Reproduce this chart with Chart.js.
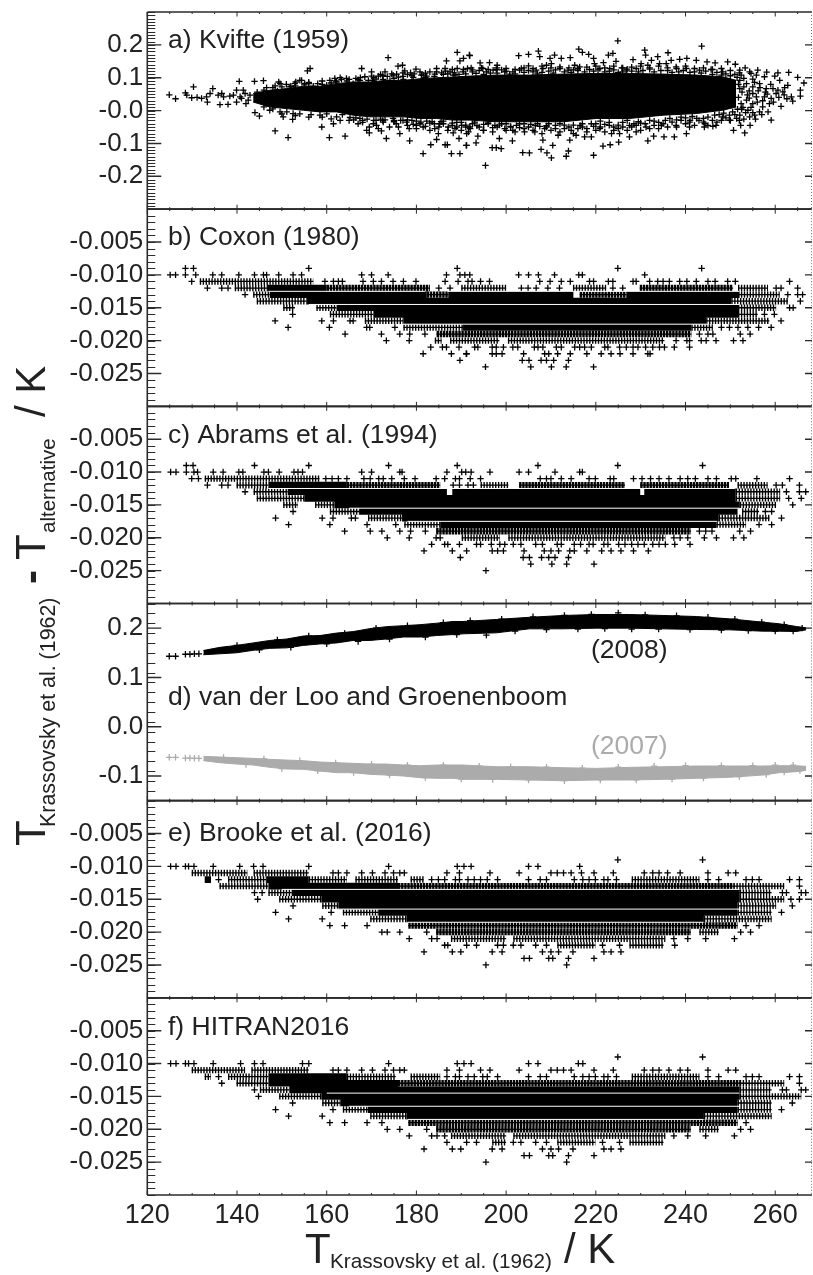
<!DOCTYPE html>
<html>
<head>
<meta charset="utf-8">
<title>Line position differences</title>
<script src="https://cdn.jsdelivr.net/npm/chart.js@4/dist/chart.umd.min.js"></script>
<style>
body { margin: 0; background: #fff; }
canvas { display: block; }
</style>
</head>
<body>
<canvas id="panels" width="813" height="1275"></canvas>
<script>
// tick values and labels
var xTicks = [120, 140, 160, 180, 200, 220, 240, 260];
var aTicks = [0.2, 0.1, 0, -0.1, -0.2];
var aLabels = ["0.2", "0.1", "-0.0", "-0.1", "-0.2"];
var rowTicks = [-0.005, -0.01, -0.015, -0.02, -0.025];
var rowLabels = ["-0.005", "-0.010", "-0.015", "-0.020", "-0.025"];
var dTicks = [0.2, 0.1, 0, -0.1];
var dLabels = ["0.2", "0.1", "0.0", "-0.1"];

// a) Kvifte: solid part of the cloud, then the single marks round it
var aCoreT = [143.6,147.3,151.1,154.8,158.5,162.2,165.9,169.6,173.3,177.1,180.8,184.5,188.2,191.9,197.8,205.2,212.7,220.1,227.5,235,242.4,248.3,251.3];
var aCoreHigh = [.052,.062,.067,.074,.074,.082,.087,.087,.092,.092,.097,.100,.102,.105,.108,.108,.111,.113,.113,.111,.108,.103,.092];
var aCoreLow = [.026,.011,.006,.001,-.004,-.004,-.014,-.019,-.019,-.019,-.024,-.024,-.029,-.029,-.034,-.034,-.034,-.024,-.024,-.014,-.009,.001,.011];
var aMarks = [
  [124.9,.048],[126.3,.036],[128.5,.054],[128.8,.047],[129.9,.039],[130.3,.072],[131.1,.040],[132.1,.037],[133.2,.042],[133.4,.026],
  [134.6,.067],[134,.052],[135.8,.047],[136.2,.018],[136.6,.052],[138,.019],[138.4,.044],[139.9,.062],[139.9,.026],[140.5,.089],
  [141.4,.062],[142,.021],[143.9,.089],[145.9,.091],[144,-.006],[145,-.017],[146,.011],[146.6,.070],[149.3,.087],[148.5,-.062],
  [150.3,-.019],[151.4,-.082],[152.4,-.027],[151.1,-.004],[153.1,.087],[154.4,.092],[155.7,.121],[156.3,.128],[158.9,-.050],[161.5,-.040],
  [160.6,-.082],[164.1,-.078],[161.8,.098],[164.4,.098],[167.8,.128],[168.9,-.060],[169.5,-.068],[170,.118],[170.2,.092],[171.1,-.045],
  [172.2,-.062],[173.3,-.085],[173.7,.161],[173,.118],[174.8,.108],[175.9,.135],[176.9,.138],[177.4,.121],[178.7,.115],[176.3,-.070],
  [178.5,-.092],[178.4,-.055],[179.9,.126],[181.1,.108],[180,-.045],[181.5,-.131],[183.2,-.104],[184.5,-.088],[184.9,-.070],[186.4,-.104],
  [186.9,-.104],[187.8,-.131],[189.7,-.131],[191.2,-.106],[189.5,-.085],[188.2,-.068],[191.2,-.070],[184.5,.128],[186.7,.151],[189.1,.177],
  [189.7,.151],[190.5,.159],[191.8,.169],[186.4,.128],[189.1,.128],[191.4,.128],[188.2,.108],
  [191.9,.167],[194.2,.145],[196.3,.146],[198,.138],[192.2,.130],[194.8,.128],[197.1,.123],[199.7,.118],[202.8,.167],[205,.171],
  [207.2,.181],[207.5,.164],[203.4,.128],[205,.136],[206.7,.123],[209,.138],[209.8,.159],[210.8,.169],[212.3,.159],[214.3,.161],
  [216.2,.187],[217,.177],[215.3,.138],[218.4,.171],[219.5,.159],[219.7,.143],[221.7,.146],[222.8,.169],[223.8,.174],[224.5,.150],
  [224.9,.212],[225.8,.130],[228.3,.155],[230.9,.184],[231.1,.169],[230.1,.143],[232.4,.153],[233.8,.164],[236.1,.176],[236.8,.153],
  [238.7,.156],[240.3,.159],[242.4,.153],[243.6,.196],[244.8,.148],[246.6,.145],[249.4,.148],[251.1,.141],[253.3,.130],[254.6,.113],
  [256.1,.123],[258.1,.117],[260.6,.115],[263,.116],[265,.101],[266.4,.084],[265.6,.062],[265.6,.044],[263.9,.029],[262.1,.070],
  [261.3,.013],[259.1,-.029],[253.2,-.068],[250.7,-.060],[252.3,-.045],[254.4,-.045],[246.8,-.045],[244.2,-.050],[240.9,-.050],[240.2,-.070],
  [237.5,-.080],[235.2,-.080],[232.9,-.078],[231.6,-.092],[227.5,-.080],[225.1,-.096],[223.2,-.104],[221.6,-.108],[219.5,-.136],[213.9,-.123],
  [213.4,-.139],[210.1,-.144],[209.1,-.129],[207.8,-.118],[210.4,-.106],[205.2,-.129],[203.7,-.128],[201.4,-.092],[198.9,-.116],[197.8,-.113],
  [196.9,-.113],[195.4,-.167],[193.3,-.098],[191.1,-.106],[193.7,-.078],[198.5,-.085],[208.2,-.090],[214.2,-.090],[219,-.080],[225.3,-.070],
  [149.6,.082],[151.8,.072],[152.9,.082],[154,.092],[155.1,.082],[157,.074],[160,.077],[160.7,.092],[162.2,.087],[163.3,.095],
  [165.9,.082],[167.4,.092],[169.3,.092],[171.5,.105],[172.6,.095],[174.1,.092],[175.6,.111],[177.1,.095],[179.3,.101],[180.8,.118],
  [182.3,.105],[184.1,.111],[185.6,.115],[187.5,.118],[188.6,.108],[190.4,.118],
  [147.3,.001],[149.6,-.004],[152.5,-.009],[158.5,-.014],[162.2,-.019],[165.2,-.021],[167.4,-.024],[170.4,-.040],[172.6,-.035],[174.8,-.024],
  [177.8,-.035],[179.3,-.042],[180.8,-.040],[182.3,-.032],[184.1,-.055],[185.2,-.040],[187.1,-.050],[188.6,-.055],[190.1,-.045],[191.6,-.065],
  [193.3,.113],[195.6,.118],[197.8,.125],[200.8,.111],[203,.123],[206,.118],[208.2,.128],[210.1,.143],[212,.133],[213.8,.123],
  [216.4,.133],[218.6,.125],[220.9,.128],[223.1,.128],[226.8,.123],[229,.128],[231.6,.138],[234.2,.143],[235.7,.143],[237.9,.133],
  [240.2,.128],[243.1,.123],[245.7,.125],[248.3,.118],[252.1,.123],[252.4,.108],[254.3,.118],[255.8,.108],[257.6,.103],[259.9,.105],
  [261,.092],[262.8,.077],[263.6,.042],
  [252.1,.092],[253.6,.082],[252.1,.067],[255,.072],[256.5,.082],[258,.067],[259.5,.067],[260.6,.062],[261.7,.057],[257.6,.042],
  [259.1,.037],[255.8,.042],[253.6,.032],[252.4,.021],[255,.021],[257.2,.011],[258.7,.021],[253.9,.001],[256.5,-.004],[252.1,-.014],
  [254.3,-.019],[255.4,-.014],[258.4,-.004],[249.8,-.014],[248.3,-.019],[249.8,-.029],
  [191.9,-.050],[194.9,-.060],[197.5,-.045],[199.7,-.055],[202.3,-.045],[204.1,-.065],[206.4,-.065],[208.6,-.055],[211.6,-.075],[215.6,-.075],
  [217.5,-.080],[220.9,-.055],[223.5,-.070],[227.5,-.045],[229,-.065],[231.2,-.050],[234.6,-.045],[237.9,-.045],[240.9,-.035],[244.3,-.040],[246.1,-.048],
  [137,.042],[139.2,.047],[140.7,.042],[141.8,.052],[142.9,.047],[142.5,.032],[141,.037],
  // second pass along the edges of the solid part
  [156,.086],[159,.090],[163,.100],[166.5,.098],[168.5,.103],[171,.096],[173.5,.104],[176,.102],[178,.110],[181.5,.108],
  [183,.118],[186,.110],[188,.125],[191,.112],[194,.122],[196.5,.114],[199,.124],[201.5,.118],[204,.116],[207,.112],
  [209.5,.120],[211,.124],[214.5,.116],[216,.122],[219.5,.120],[222,.118],[224,.124],[226,.118],[228,.120],[230.5,.122],
  [233,.118],[236,.122],[238.5,.118],[241,.116],[243.5,.114],[246,.110],[248,.108],[250,.106],[251.5,.101],
  [165,-.030],[168,-.036],[171,-.030],[173,-.028],[175.5,-.040],[178,-.028],[181.5,-.050],[183,-.038],[186,-.032],[188,-.038],
  [190,-.036],[192.5,-.040],[195,-.042],[197,-.052],[200,-.040],[201.5,-.060],[203,-.052],[205.5,-.042],[207.5,-.048],[209.5,-.040],
  [211,-.055],[213,-.044],[214.5,-.060],[216.5,-.045],[218,-.055],[220,-.040],[222,-.042],[224,-.050],[226,-.036],[228.5,-.040],
  [230,-.038],[233,-.032],[235.5,-.030],[238,-.028],[240,-.022],[242.5,-.024],[245,-.020],[247.5,-.012],
  // third pass, the fuzzy zone further out
  [158,.082],[161,.084],[164.5,.090],[167,.094],[170.5,.100],[172.5,.106],[175,.098],[177,.104],[179,.106],[182,.100],
  [184,.104],[187,.112],[189.5,.110],[192.5,.118],[195,.110],[198,.114],[200,.120],[202,.112],[205,.122],[208,.116],
  [210.5,.114],[213,.118],[215,.124],[217.5,.118],[220.5,.124],[223,.120],[225,.116],[227,.126],[229.5,.118],[232,.126],
  [234.5,.122],[237,.116],[239.5,.122],[242,.118],[244.5,.120],[247,.116],[249,.112],[251,.110],[253,.098],[255,.096],
  [152,.074],[155,.078],[150,.072],[148,.070],[146,.062],[144.5,.056],[146.5,.052],[149,.060],
  [154,-.010],[156.5,-.012],[160,-.010],[163.5,-.012],[166.5,-.022],[169,-.026],[172,-.026],[175,-.030],[177,-.030],[180,-.032],
  [183.5,-.034],[185.5,-.034],[189,-.036],[191,-.044],[193.5,-.046],[196,-.040],[198.5,-.044],[201,-.048],[204,-.040],[206.5,-.046],
  [209,-.046],[212,-.040],[215,-.044],[217,-.040],[219.5,-.048],[221,-.032],[223,-.036],[225,-.044],[227,-.030],[229.5,-.034],
  [232,-.030],[234,-.036],[236.5,-.024],[239,-.020],[241.5,-.018],[244,-.024],[246.5,-.014],[248.5,-.008],[250.5,-.004],[252.5,.004],
  [251.8,.080],[253,.072],[254.2,.060],[255.4,.086],[256.6,.070],[257.8,.056],[259,.080],[260.2,.052],[252.6,.056],[253.8,.048],
  [255,.052],[256.2,.060],[254.2,.038],[251.8,.040],[252.8,.010],[254.6,.010],[256,.026],[257.2,.030],[258.2,.050],[259.6,.026],
  [260.8,.040],[262,.048],[262.6,.036],[251.6,.004],[253.4,-.006],[255,-.006],[251.4,-.024],[253,-.026],[255.6,-.026],[257,-.012],
  // fourth pass, lower haze then upper haze
  [166,-.028],[167,-.04],[168,-.03],[169.5,-.05],[170.5,-.03],[171.5,-.055],[172.5,-.03],[174,-.05],[175,-.034],[176,-.05],
  [176.5,-.03],[178,-.045],[179,-.03],[180,-.055],[181,-.035],[182,-.048],[183,-.06],[184,-.04],[185,-.05],[186,-.04],
  [187,-.06],[188,-.045],[189,-.05],[190,-.06],[191,-.05],[192,-.055],[193,-.035],[194,-.05],[195,-.06],[196,-.035],
  [197,-.065],[198,-.05],[199,-.04],[200,-.06],[201,-.05],[202,-.065],[203,-.04],[204,-.055],[205,-.05],[206,-.06],
  [207,-.04],[208,-.07],[209,-.05],[210,-.06],[211,-.045],[212,-.065],[213,-.055],[214,-.05],[215,-.07],[216,-.055],
  [217,-.05],[218,-.065],[219,-.04],[220,-.06],[221,-.05],[222,-.065],[223,-.045],[224,-.06],[225,-.055],[226,-.05],
  [227,-.06],[228,-.05],[229,-.045],[230,-.06],[231,-.04],[232,-.055],[233,-.045],[234,-.055],[235,-.04],[236,-.05],
  [237,-.035],[238,-.05],[239,-.03],[240,-.04],[241,-.03],[242,-.045],[243,-.03],[244,-.035],[245,-.045],[246,-.03],
  [247,-.035],[248,-.03],[249,-.022],[250,-.03],[251,-.012],[252,-.03],
  [165,.095],[167.5,.10],[170,.105],[172,.11],[174.5,.112],[177,.115],[179.5,.112],[182,.114],[184.5,.118],[186.5,.12],
  [188.5,.115],[190.5,.125],[192.5,.124],[194.5,.13],[196,.125],[198,.13],[200,.128],[202,.125],[204,.13],[206,.128],
  [208,.135],[210,.13],[212,.128],[214,.13],[216,.128],[218,.132],[220,.135],[222,.13],[224,.135],[226,.13],
  [228,.132],[230,.135],[232,.13],[234,.135],[236,.13],[238,.128],[240,.135],[242,.128],[244,.13],[246,.125],
  [248,.128],[250,.122],[252,.115],
  [148.5,.075],[151,.08],[153,.075],[156,.082],[159,.08],[162,.09],[150,-.01],[153,-.015],[156,-.02],[159,-.02],
  [161,-.025],[163,-.03],[148,.005]
];

// b, c, e, f: the differences fall on rows. core/comb are [row, T from, T to], a 1 at the end of a comb means close teeth,
// gaps are the white seams between rows, marks are [row, [T...]]
var bCore = [[-.012,146.9,160],[-.013,147.3,182.3],[-.013,187.1,215],[-.013,226.8,252],[-.014,155.5,250.2],[-.015,162.2,251.7],[-.016,170.4,251.7],[-.017,177.1,244.6],[-.018,190.4,241.3]];
var bComb = [[-.011,131.7,157],[-.012,139.5,146.9],[-.012,160,183,1],[-.012,190,200],[-.012,214.9,222.3],[-.012,229.8,250.6,1],[-.012,251.7,258.4],[-.013,143.6,147.3],[-.013,182.3,187.1,1],[-.013,216.4,226.8,1],[-.013,251.7,261],[-.014,144.4,155.5],[-.014,250.2,262.8],[-.015,150.3,152.9],[-.015,157.7,162.2],[-.015,251.7,260.2],[-.016,160.7,170.4],[-.016,251.7,256.1],[-.017,168.5,177.1],[-.017,244.6,258.7],[-.018,177.1,190.4],[-.018,241.3,246.1],[-.019,184.5,241.3,1],[-.02,184.1,185.6],[-.02,187.5,198.5],[-.02,200.4,235.3]];
var bGaps = [[-.0125,147,182],[-.0125,187,252],[-.0145,156,252],[-.0175,177,245]];
var bMarks = [
  [-.009,[128.5,130.3,156,189.1,224.9,243.6]],
  [-.01,[125.1,126.3,128.5,130.8,134.6,136.6,140.4,143.9,145.9,146.6,149.3,152.5,154.4,167.8,170,173.7,186.7,189.7,190.8,191.9,202.8,205,207.2,210.8,216.2,217,230.9]],
  [-.011,[129.9,159.6,161.5,162.6,163.5,168.1,170.4,172.2,174.8,177.1,179.9,186.4,189.3,191.5,192.4,194.3,196.3,207.5,209.8,212.3,214.3,218.6,219.5,222.8,223.8,228.3,229,232,233.8,235,236.4,238.7,240.3,242.4,245,246.6,249.4,251.1,263.2]],
  [-.012,[133.4,136.6,138,185,187.5,203.4,204.9,206.7,209.3,211.9,223.8,226,260.2,261.3,265]],
  [-.013,[141.8,262.8,265,266.1]],
  [-.014,[265.6]],
  [-.015,[263.2,264]],
  [-.016,[152.4,257.6,259.8]],
  [-.017,[148.5,158.9,161.5,165.2,165.9,261.3]],
  [-.018,[151.4,160.6,168.9,169.6,175.2,248,249.8,251.7,253.9,256.3,259.1]],
  [-.019,[164.1,172.2,176.3,178.5,181.9,243.1,245,246.1,252.2,254.4]],
  [-.02,[173.3,178.4,237.9,240.3,240.9,243.5,244.6,246.8,250.7,252.8]],
  [-.021,[183.2,185.8,186.7,189.5,193,193.7,196.9,197.8,199.4,201.5,202.6,206.3,207.1,208.2,211.2,212.3,215.3,216.4,217.5,219,222,222.7,225.3,226.8,228.3,229.4,231.1,232.7,234.2,235.3,237.5,240.9]],
  [-.022,[181.5,187.8,191.2,191.1,196.9,197.8,199.1,203.9,208.6,209.5,211.5,214.3,218,221.2,223.4,225.4,228.3,231.6,232.1]],
  [-.023,[189.7,203.6,205.1,207.8,209,210.6,213.9]],
  [-.024,[195.4,205.5,210.1,213.4,219.5]]
];

var cCore = [[-.012,147,164.5],[-.013,151.3,186.8],[-.013,188,229.9],[-.013,230.8,251.2],[-.014,155,251.2],[-.015,161.7,252.1],[-.016,167.4,251.6],[-.017,176.8,247.4],[-.018,185.3,246.9]];
var cComb = [[-.011,132.8,158.4],[-.012,139.9,147],[-.012,164.5,185.3,1],[-.012,194.3,200.5],[-.012,202.9,226.5,1],[-.012,229.9,249.7,1],[-.012,251.6,258.3],[-.013,143.7,151.3],[-.013,251.2,261.1],[-.014,144.4,155],[-.014,251.2,261.1],[-.015,150.3,153.6],[-.015,157.4,161.7],[-.015,252.1,260.2],[-.016,160.7,167.4],[-.016,252.6,256.4],[-.017,169.2,176.8],[-.017,247.4,258.7],[-.018,177.3,185.3],[-.018,246.9,253.5],[-.019,184.4,241.2,1],[-.02,190.1,198.6],[-.02,200.5,235.5]];
var cGaps = [[-.0125,147,251],[-.0155,165,252],[-.0175,178,247]];
var cMarks = [
  [-.009,[128.7,130.2,143.9,156,173.8,189.1,207.1,224.9,243.8]],
  [-.01,[125.2,126.4,128.7,130.4,131.2,134.7,136.9,140.4,141.3,146,147,149.4,152.7,153.6,154.6,167.8,170,176.3,176.8,186.8,190.1,191,192.2,196.4,202.9,205,210.9,216.4,217]],
  [-.011,[129.9,131.4,159.8,161.2,162.6,164.5,168.3,169.7,171.6,172.6,174.5,177.3,179.7,184.4,186.3,188.7,189.6,192,194.3,207.6,209,210,212.3,214.5,218.5,219.9,223.2,224,228.4,230.3,232.2,234.1,236.3,238.8,240.5,242.2,245,246.9,250.2,251.2,255.9,263.2]],
  [-.012,[133.4,136.6,138,188.2,189.6,191.5,192.7,260.2,261.6,265.4]],
  [-.013,[141.8,262.5,265.4,266.8]],
  [-.014,[263,265.8]],
  [-.015,[263.9]],
  [-.016,[152.5,257.8,259.2]],
  [-.017,[148.6,159,161.4,165.5,166.4,261.4]],
  [-.018,[151.5,160.7,169,175.4,256.4,259.2]],
  [-.019,[164,169.7,172.3,176.3,178.7,182,243.1,244.5,245.9,252.1,254.5]],
  [-.02,[173.5,178.4,184.4,185.3,237.4,238.8,240.5,244.2,246.9,250.7,253]],
  [-.021,[183.4,186.3,187,189.6,193.4,194.3,196.7,198.6,199.7,201.6,203.3,206.6,208.1,211.4,212.3,215.2,216.6,218.5,219.4,221.8,222.7,225.1,226.5,228,229.4,230.8,232.7,234.1,235.5,237.6,241]],
  [-.022,[181.7,188,191.2,196.9,198.1,199.4,204,208.5,210,211.7,214.2,215.2,218,221.3,223.4,225.6,228.4,231.7]],
  [-.023,[189.8,203.8,205.2,207.9,209.5,210.9,213.9]],
  [-.024,[205.5,210.2,213.5,219.6]],
  [-.025,[195.5]]
];

var eCore = [[-.012,132.8,134.2],[-.012,146.5,156],[-.013,147,175.9],[-.014,152.2,252.1],[-.015,158.8,252.1],[-.016,162.6,251.6],[-.017,171.6,251.6],[-.018,177.8,244.1]];
var eComb = [[-.011,129.9,142.3],[-.011,143.7,156],[-.012,138,146.5],[-.012,156,164.5],[-.012,166.4,175.9],[-.012,178.7,181.6],[-.012,228,243.1],[-.013,136.1,147],[-.013,175.9,250.7,1],[-.013,250.7,262],[-.014,147,152.2],[-.014,252.1,259.2],[-.015,149.4,158.8],[-.015,252.1,262],[-.016,159,162.6],[-.016,251.6,260.2],[-.017,163.6,171.6],[-.017,251.6,259.2],[-.018,169.7,177.8],[-.018,244.1,259.2],[-.019,178.2,251.6,1],[-.02,184.4,241.2,1],[-.02,243.1,247.4],[-.021,187.7,200],[-.021,201.6,235.5],[-.022,211.4,219.9],[-.022,227.5,235.1]];
var eGaps = [[-.0135,150,252],[-.0165,162,252],[-.0185,178,244]];
var eMarks = [
  [-.009,[224.9,243.8]],
  [-.01,[125.2,126.4,128.5,129.2,130.4,134.7,140.6,143.7,145.8,156,173.8,189.1,190.6,192.2,205,207.1,216.4]],
  [-.011,[161.4,162.6,164.5,167.8,170.2,173,174.9,176.3,177.3,186.8,189.6,196.4,202.9,210,211.4,212.8,214.5,216.8,219.6,223.9,230.8,232.7,234.1,236,238.8,245,249.5,251.2]],
  [-.012,[135.9,183.4,184.9,186.3,188.7,189.6,191.5,192.9,194.3,195.8,198.1,205,207.6,209,215.2,217.1,218.5,219.9,221.8,222.7,224.6,245,247.4,253.5,254.9,256.4,263.2,265.4]],
  [-.013,[265.4]],
  [-.014,[143.9,145.6,261.6,262.5,265.8,266.8]],
  [-.015,[144.6,263.5,265.4]],
  [-.016,[152.5,263.8]],
  [-.017,[148.6,161,261.4]],
  [-.018,[151.5,159]],
  [-.019,[160.7,164,169,253.5,256.4]],
  [-.02,[172.3,173.5,176.3,182.3,252.3,254.5]],
  [-.021,[178.4,183.4,184.6,237.4,240.5,244.5,250.9]],
  [-.022,[186.3,187,191.2,193.4,198.1,199.4,201.6,203.3,206.6,209,221.5,225.3,237.6]],
  [-.023,[181.7,188,189.9,196.9,199.1,208.1,210,211.7,214.9,221.8,223.4,225.6]],
  [-.024,[204,205.2,209.5,210.4,213.9,219.6]],
  [-.025,[195.5,213.5]]
];

var fCore = [[-.012,147,164.5],[-.013,147,175.9],[-.014,151.7,252.1],[-.015,158.8,252.1],[-.016,163.1,251.6],[-.017,169.2,251.6],[-.018,177.8,244.1]];
var fComb = [[-.011,129.9,141.8],[-.011,143.2,156],[-.012,132.8,134.2],[-.012,138,147],[-.012,164.5,175.4],[-.012,178.7,185.3],[-.012,228,243.1],[-.013,139.9,147],[-.013,175.9,252.1,1],[-.013,252.1,262],[-.014,145.1,151.7],[-.014,252.1,259.2],[-.015,149.4,158.8],[-.015,252.1,265.8],[-.016,159,163.1],[-.016,251.6,259.2],[-.017,163.6,169.2],[-.017,251.6,259.2],[-.018,169.7,177.8],[-.018,244.1,259.2],[-.019,178.2,251.6,1],[-.02,184.4,241.2,1],[-.02,243.1,247.4],[-.021,187.7,200],[-.021,201.6,235.5],[-.022,196.9,200],[-.022,211.4,219.9],[-.022,227.5,235.1]];
var fGaps = [[-.0145,160,252],[-.0165,165,252],[-.0185,178,244]];
var fMarks = [
  [-.009,[224.9,243.8]],
  [-.01,[125.2,126.4,128.5,129.2,130.4,134.7,140.8,143.9,145.8,154.6,156,173.8,189.1,190.6,192.2,205,207.1,216.1,217.1]],
  [-.011,[161.4,162.6,164.5,167.8,170.2,173,174.9,176.3,177.3,186.8,189.6,194.3,196.4,202.9,210,211.4,212.8,214.5,219.6,223.9,230.8,232.7,234.1,236.3,238.8,240.5,245,249.5,251.2]],
  [-.012,[135.9,186.8,188.7,189.6,191.5,192.9,194.8,195.8,198.1,205,207.6,209,215.2,217.1,218.5,219.9,221.8,222.7,224.6,245,247.4,253.5,254.9,256.4,263.2,265.4]],
  [-.013,[136.6,265.4]],
  [-.014,[143.9,261.6,262.5,265.8,266.8]],
  [-.015,[144.8]],
  [-.016,[152.4,263.8]],
  [-.017,[148.6,161.4,261.4]],
  [-.018,[151.5,159]],
  [-.019,[160.7,164,169,172.3,253.5]],
  [-.02,[173.5,176.3,182.3,252.3,254.5]],
  [-.021,[178.4,183.4,184.6,186.3,237.4,240.5,244.5,250.9]],
  [-.022,[186.8,191.2,193.4,201.6,203.3,206.6,209,221.5,225.3]],
  [-.023,[181.7,188,189.9,196.9,199.1,208.1,210,211.7,214.9,221.8,223.4,225.6]],
  [-.024,[204,205.2,209.5,210.4,213.9,219.6]],
  [-.025,[195.5,213.5]]
];

// d) two narrow bands, with the marks that stick out of their edges
var dLeftT = [124.9,126.3,128.5,129.5,130.5,131.5];
var dBlackLeft = [.143,.143,.147,.147,.148,.148];
var dGreyLeft = [-.062,-.062,-.0635,-.0635,-.064,-.064];
var dBandT = [132.5,136.2,139.9,143.6,147.3,151.1,154.8,158.5,162.2,165.9,169.6,173.3,177.1,180.8,184.5,188.2,190.4,197.8,205.2,212.7,220.1,227.5,235,242.4,249.8,257.2,260.9,264.7,266.9];
var dBlackHigh = [.1547,.161,.165,.170,.175,.178,.184,.185,.190,.193,.199,.203,.205,.207,.210,.2135,.2135,.2176,.222,.2257,.2277,.2277,.2257,.2236,.2189,.2122,.2088,.2034,.2007];
var dBlackLow = [.146,.148,.150,.155,.159,.160,.165,.168,.170,.175,.175,.178,.182,.182,.185,.187,.1885,.1905,.1986,.1986,.2,.2,.1986,.1973,.1966,.1939,.1939,.1932,.1966];
var dGreyHigh = [-.0601,-.0615,-.0628,-.0642,-.0662,-.0676,-.0689,-.0716,-.073,-.0743,-.0757,-.0757,-.0777,-.0791,-.0777,-.0777,-.0777,-.0811,-.0811,-.0831,-.0845,-.0824,-.0811,-.0797,-.0797,-.0797,-.0791,-.0791,-.0804];
var dGreyLow = [-.0689,-.073,-.0757,-.0777,-.0824,-.0858,-.0865,-.0899,-.0932,-.0932,-.0966,-.098,-.1,-.1034,-.1047,-.1047,-.1068,-.1068,-.1081,-.1095,-.1081,-.1081,-.1068,-.1047,-.1027,-.098,-.0932,-.0912,-.0885];
var dBlackEdge = [[140,.165],[145,.156],[149,.176],[152,.161],[156,.184],[160,.168],[164,.189],[167,.173],[171,.200],[174,.178],[178,.205],[182,.182],[186,.211],[189,.187],[192,.215],[195.6,.186],[199,.218],[202,.194],[206,.223],[209,.197],[213,.226],[216,.198],[219,.228],[222,.199],[225,.231],[228,.198],[231,.227],[234,.198],[238,.225],[241,.197],[245,.222],[248,.196],[251,.218],[254,.195],[257,.212],[260,.194],[262,.207],[264,.194],[266,.200]];
var dGreyEdge = [[137,-.0625],[142,-.0765],[146,-.0655],[150,-.085],[154,-.069],[158,-.0895],[162,-.0735],[166,-.093],[170,-.076],[174,-.098],[178,-.078],[182,-.103],[186,-.078],[190,-.106],[194,-.080],[197,-.107],[201,-.081],[205,-.108],[209,-.082],[213,-.1095],[217,-.084],[221,-.108],[225,-.082],[229,-.108],[233,-.080],[237,-.106],[240,-.079],[244,-.104],[248,-.079],[252,-.101],[255,-.079],[258,-.097],[260,-.078],[262,-.092],[264,-.078],[265.5,-.089]];

var panelNames = ["a) Kvifte (1959)", "b) Coxon (1980)", "c) Abrams et al. (1994)", "d) van der Loo and Groenenboom", "e) Brooke et al. (2016)", "f) HITRAN2016"];

var GREY = "#ababab";
var INK = "#222";

function pts(xs, ys) {
  return xs.map(function(x, i) { return {x: x, y: ys[i]}; });
}

function pairs(list) {
  return list.map(function(p) { return {x: p[0], y: p[1]}; });
}

function markSet(data, axis, color) {
  return {
    yAxisID: axis, data: data, showLine: false,
    pointStyle: "cross", pointRadius: 3.2, pointBorderWidth: 1.3,
    pointBorderColor: color, pointBackgroundColor: color
  };
}

function lineSet(data, axis, color, width, dash) {
  return {
    yAxisID: axis, data: data, showLine: true, pointRadius: 0,
    borderColor: color, borderWidth: width, borderDash: dash || [],
    borderCapStyle: "butt", tension: 0, fill: false
  };
}

function bandSets(xs, high, low, axis, color) {
  var top = lineSet(pts(xs, high), axis, color, 1);
  top.fill = "+1";
  top.backgroundColor = color;
  return [top, lineSet(pts(xs, low), axis, color, 1)];
}

function spanData(spans) {
  var out = [];
  spans.forEach(function(s) {
    out.push({x: s[1], y: s[0]}, {x: s[2], y: s[0]}, {x: s[2], y: null});
  });
  return out;
}

function rowMarks(rows) {
  var out = [];
  rows.forEach(function(r) {
    r[1].forEach(function(t) { out.push({x: t, y: r[0]}); });
  });
  return out;
}

function rowSets(core, comb, gaps, marks, axis) {
  var close = comb.filter(function(s) { return s[3]; });
  var open = comb.filter(function(s) { return !s[3]; });
  // the library paints the first dataset last, so the seams go first
  return [
    lineSet(spanData(gaps), axis, "#fff", 1),
    lineSet(spanData(core), axis, "#000", 6.7),
    lineSet(spanData(comb), axis, "#000", 1.3),
    lineSet(spanData(close), axis, "#000", 6.4, [2.4, 0.7]),
    lineSet(spanData(open), axis, "#000", 6.4, [1.4, 1.5]),
    markSet(rowMarks(marks), axis, "#000")
  ];
}

var datasets = [].concat(
  bandSets(aCoreT, aCoreHigh, aCoreLow, "ya", "#000"),
  [markSet(pairs(aMarks), "ya", "#000")],
  rowSets(bCore, bComb, bGaps, bMarks, "yb"),
  rowSets(cCore, cComb, cGaps, cMarks, "yc"),
  bandSets(dBandT, dBlackHigh, dBlackLow, "yd", "#000"),
  bandSets(dBandT, dGreyHigh, dGreyLow, "yd", GREY),
  [markSet(pts(dLeftT, dBlackLeft), "yd", "#000"), markSet(pts(dLeftT, dGreyLeft), "yd", GREY)],
  [markSet(pairs(dBlackEdge), "yd", "#000"), markSet(pairs(dGreyEdge), "yd", GREY)],
  rowSets(eCore, eComb, eGaps, eMarks, "ye"),
  rowSets(fCore, fComb, fGaps, fMarks, "yf")
);

function yAxis(min, max, values, labels, order) {
  return {
    type: "linear", position: "left", stack: "panels", stackWeight: 1, weight: order,
    min: min, max: max,
    grid: {display: false, drawTicks: false}, border: {display: false},
    afterBuildTicks: function(scale) {
      scale.ticks = values.map(function(v) { return {value: v}; });
    },
    afterFit: function(scale) {
      scale.width = 147.3;
      scale.paddingTop = 0;
      scale.paddingBottom = 0;
    },
    ticks: {
      autoSkip: false, padding: 4, color: INK, maxRotation: 0,
      font: {family: "Liberation Sans", size: 26},
      callback: function(v, i) { return labels[i]; }
    }
  };
}

// how often the small left ticks come on each panel
var panelAxes = [["ya", 0.01], ["yb", 0.001], ["yc", 0.001], ["yd", 0.02], ["ye", 0.001], ["yf", 0.001]];

var frameTicks = {
  id: "frameTicks",
  afterDatasetsDraw: function(chart) {
    var ctx = chart.ctx, x = chart.scales.x, left = x.left, right = x.right;
    ctx.save();
    ctx.strokeStyle = "#2b2b2b";
    panelAxes.forEach(function(p) {
      var s = chart.scales[p[0]], step = p[1], v, n, y;
      // left side
      ctx.lineWidth = 1;
      ctx.beginPath();
      n = Math.round((s.max - s.min) / step);
      for (var i = 0; i <= n; i++) {
        y = Math.round(s.getPixelForValue(s.min + i * step)) + 0.5;
        ctx.moveTo(left, y); ctx.lineTo(left + 8, y);
      }
      ctx.stroke();
      ctx.lineWidth = 1.4;
      ctx.beginPath();
      s.ticks.forEach(function(t) {
        y = s.getPixelForValue(t.value);
        ctx.moveTo(left, y); ctx.lineTo(left + 14, y);
        ctx.moveTo(right, y); ctx.lineTo(right - 7, y);
      });
      ctx.stroke();
      // x ticks, top and bottom of every panel
      ctx.lineWidth = 1;
      ctx.beginPath();
      for (v = 120; v <= x.max; v += 5) {
        var px = x.getPixelForValue(v), len = v % 20 === 0 ? 4.5 : 2;
        ctx.moveTo(px, s.top); ctx.lineTo(px, s.top + len);
        ctx.moveTo(px, s.bottom); ctx.lineTo(px, s.bottom - len);
      }
      ctx.stroke();
      // frame
      ctx.lineWidth = 1.6;
      ctx.beginPath();
      ctx.moveTo(left, s.top); ctx.lineTo(right, s.top);
      ctx.moveTo(left, s.bottom); ctx.lineTo(right, s.bottom);
      ctx.moveTo(left, s.top); ctx.lineTo(left, s.bottom);
      ctx.stroke();
      // right side is only a dotted line
      ctx.save();
      ctx.lineWidth = 1;
      ctx.strokeStyle = "#777";
      ctx.setLineDash([1, 2]);
      ctx.beginPath();
      ctx.moveTo(right - 0.5, s.top); ctx.lineTo(right - 0.5, s.bottom);
      ctx.stroke();
      ctx.restore();
    });
    ctx.restore();
  }
};

function put(ctx, text, size, x, y, color, bold) {
  ctx.fillStyle = color || INK;
  ctx.font = (bold ? "bold " : "") + size + "px 'Liberation Sans'";
  ctx.fillText(text, x, y);
}

function putUp(ctx, text, size, x, y, bold) {
  ctx.save();
  ctx.translate(x, y);
  ctx.rotate(-Math.PI / 2);
  put(ctx, text, size, 0, 0, INK, bold);
  ctx.restore();
}

var panelText = {
  id: "panelText",
  afterDraw: function(chart) {
    var ctx = chart.ctx;
    ctx.save();
    ctx.textAlign = "left";
    ctx.textBaseline = "alphabetic";
    var baselines = [48, 245, 443, 705, 841, 1035];
    panelNames.forEach(function(name, i) {
      put(ctx, name, 26.5, 168, baselines[i]);
    });
    put(ctx, "(2008)", 26.5, 591, 658);
    put(ctx, "(2007)", 26.5, 591, 754, GREY);
    // x title
    put(ctx, "T", 42, 305, 1263);
    put(ctx, "Krassovsky et al. (1962)", 20.7, 330, 1268);
    put(ctx, "/ K", 42, 564, 1263);
    // y title
    putUp(ctx, "T", 42, 45, 846);
    putUp(ctx, "Krassovsky et al. (1962)", 21.4, 55, 827);
    putUp(ctx, "-", 42, 45, 584, true);
    putUp(ctx, "T", 42, 45, 560);
    putUp(ctx, "alternative", 20.5, 55, 533);
    putUp(ctx, "/ K", 42, 45, 417);
    ctx.restore();
  }
};

var chart = new Chart(document.getElementById("panels").getContext("2d"), {
  type: "scatter",
  data: {datasets: datasets},
  plugins: [frameTicks, panelText],
  options: {
    responsive: false,
    animation: false,
    layout: {autoPadding: false, padding: {top: 12, right: 1, left: 0, bottom: 0}},
    plugins: {legend: {display: false}, tooltip: {enabled: false}},
    scales: {
      x: {
        type: "linear", min: 120, max: 268.2,
        grid: {display: false, drawTicks: false}, border: {display: false},
        afterBuildTicks: function(scale) {
          scale.ticks = xTicks.map(function(v) { return {value: v}; });
        },
        afterFit: function(scale) {
          scale.height = 80;
          scale.paddingLeft = 0;
          scale.paddingRight = 0;
        },
        ticks: {
          autoSkip: false, padding: 4, color: INK, maxRotation: 0,
          font: {family: "Liberation Sans", size: 27}
        }
      },
      ya: yAxis(-0.3, 0.3, aTicks, aLabels, 6),
      yb: yAxis(-0.03, 0, rowTicks, rowLabels, 5),
      yc: yAxis(-0.03, 0, rowTicks, rowLabels, 4),
      yd: yAxis(-0.15, 0.25, dTicks, dLabels, 3),
      ye: yAxis(-0.03, 0, rowTicks, rowLabels, 2),
      yf: yAxis(-0.03, 0, rowTicks, rowLabels, 1)
    }
  }
});
</script>
</body>
</html>
